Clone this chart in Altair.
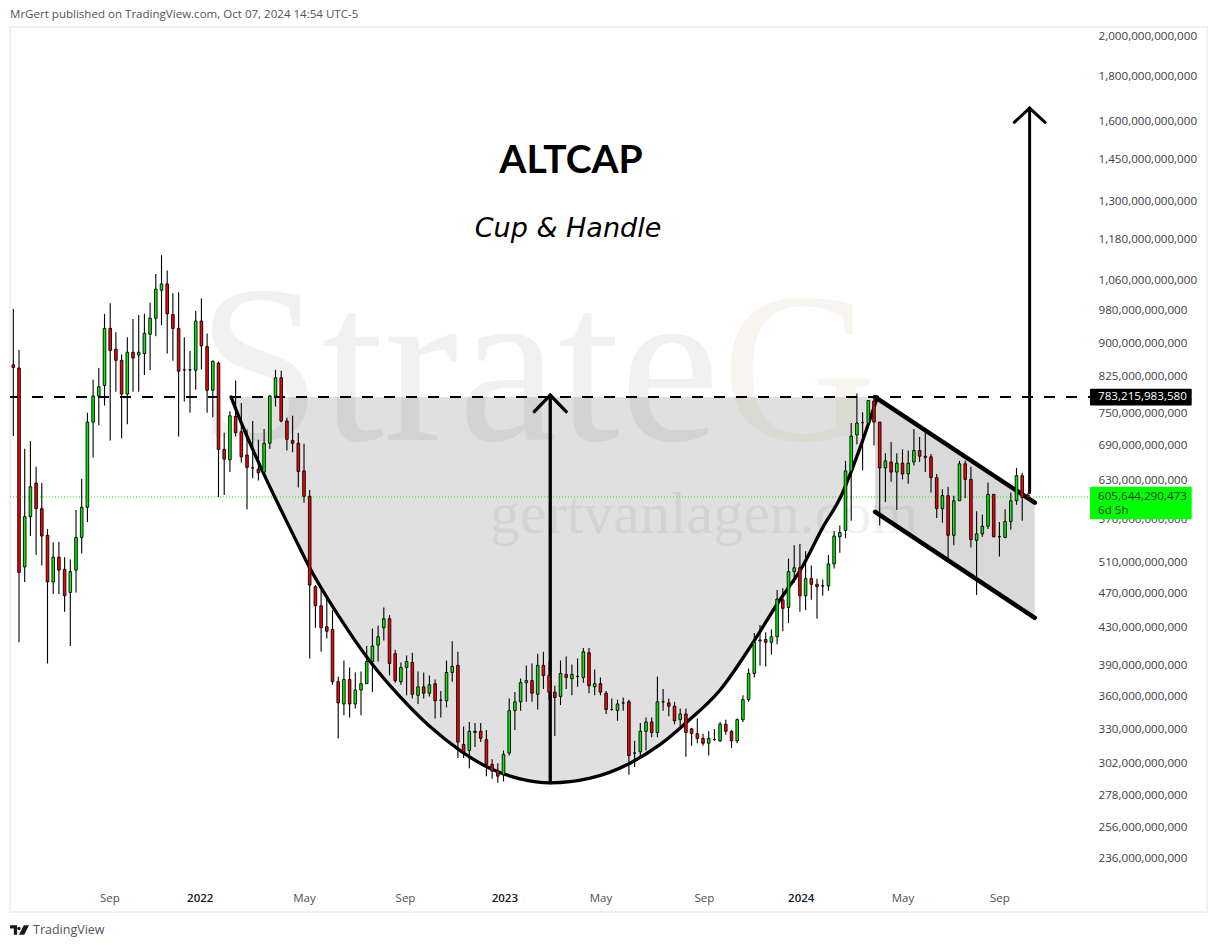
import altair as alt
import pandas as pd

# weekly ALTCAP candles, prices in billions
opens = [
    847, 840, 501, 571, 623, 583, 544, 482, 514, 498,
    469, 497, 541, 585, 730, 781, 803, 931, 882, 857,
    785, 875, 869, 872, 917, 956, 1028, 1045, 965, 931,
    836, 836, 835, 949, 888, 793, 851, 680, 662, 741,
    712, 670, 648, 646, 641, 691, 781, 819, 732, 696,
    691, 643, 602, 476, 453, 429, 426, 372, 351, 374,
    351, 364, 370, 392, 409, 428, 438, 400, 372, 386,
    391, 359, 367, 361, 370, 354.5, 354, 381, 388, 316,
    311, 326, 327, 320, 300, 295, 292, 309, 345, 353,
    371, 373, 360, 388, 378, 362, 358, 379, 375, 377,
    376, 401, 367, 370, 361, 346, 345, 352, 353, 309,
    310, 327, 335, 326, 353, 352, 349, 337, 342, 329,
    325, 321, 317, 320, 319, 333, 327, 319, 337, 355,
    380, 413.5, 415, 412, 418, 460, 451, 495, 500, 465,
    486, 479, 477, 477, 505, 542, 551, 643, 706, 729,
    728, 771, 730, 648, 658, 641, 656, 638, 658, 678,
    668, 667, 632, 583, 603, 544, 595, 655, 629, 537,
    546, 557, 605, 542, 541, 564, 595, 635, 604,
]
highs = [
    979, 880, 681, 695, 650, 623, 553, 534, 535, 514,
    511, 581, 630, 748, 815, 840, 967, 994, 922, 870,
    910, 954, 964, 967, 995, 1072, 1126, 1082, 1020, 1023,
    910, 878, 974, 1006, 919, 856, 854, 710, 751, 813,
    767, 716, 732, 697, 717, 783, 836, 834, 738, 742,
    710, 690, 612, 478, 472, 465, 448, 377, 393, 386,
    381, 382, 408, 427, 430, 451, 442, 404, 391, 398,
    401, 382, 381, 378, 374, 363, 393, 413, 402, 331,
    335, 334, 334, 328, 304, 301, 311, 356, 362, 375,
    388, 390, 400, 402, 392, 368, 393, 397, 389, 395,
    406, 406, 384, 376, 363, 356, 355, 357, 355, 319,
    334, 339, 339, 377, 365, 356, 353, 347, 347, 330,
    338, 325, 327, 329, 335, 337, 328, 338, 359, 385,
    422, 431, 423, 426, 472, 474, 512, 530, 532, 522,
    503, 486, 485, 517, 550, 558, 660, 728, 786, 749,
    773, 783, 730, 673, 693, 673, 680, 678, 717, 702,
    712, 672, 638, 613, 617, 603, 660, 660, 650, 579,
    574, 624, 605, 563, 582, 608, 648, 640, 607,
]
lows = [
    704, 412, 482, 543, 517, 503, 390, 467, 467, 446,
    408, 469, 519, 563, 666, 724, 762, 696, 790, 700,
    726, 790, 790, 825, 835, 912, 939, 872, 856, 703,
    770, 748, 794, 837, 748, 739, 601, 604, 641, 703,
    657, 582, 631, 627, 640, 681, 760, 729, 678, 675,
    616, 592, 395, 428, 402, 416, 369, 321, 341, 339,
    347, 341, 370, 362, 392, 414, 378, 371, 369, 359,
    356, 351, 356, 358, 338, 339, 348, 372, 305, 305,
    297, 314, 318, 291, 289, 286, 287, 307, 328, 345,
    353, 353, 346, 365, 355, 323, 350, 365, 359, 367,
    371, 361, 359, 359, 342, 345, 336, 345, 292, 298,
    306, 311, 322, 322, 345, 340, 333, 331, 306, 315,
    317, 315, 307, 319, 318, 324, 313, 317, 335, 353,
    376, 388, 387, 399, 410, 424, 433, 481, 446, 448,
    460, 438, 465, 471, 499, 520, 540, 565, 689, 644,
    727, 687, 558, 593, 625, 581, 629, 622, 652, 658,
    641, 608, 569, 562, 510, 530, 595, 599, 527, 466,
    542, 553, 541, 515, 540, 552, 589, 565, 597,
]
closes = [
    841, 494, 571, 617, 583, 543, 482, 514, 497, 465,
    495, 541, 585, 730, 781, 800, 931, 879, 857, 785,
    875, 862, 875, 919, 956, 1031, 1045, 967, 931, 833,
    836, 836, 949, 890, 793, 855, 680, 663, 742, 710,
    667, 649, 648, 640, 691, 781, 819, 732, 698, 691,
    642, 602, 478, 453, 428, 424, 372, 352, 374, 351,
    364, 370, 392, 408, 418, 438, 390, 373, 386, 392,
    360, 367, 361, 369, 354, 354.5, 381, 387, 318, 310,
    327, 327, 321, 300, 295, 291, 308, 345, 353, 371,
    373, 361, 388, 378, 362, 357, 380, 376, 379, 377,
    402, 368, 370, 362, 346, 346, 351, 352, 307, 309,
    327, 335, 326, 353, 353, 349, 336, 342, 326, 325,
    321, 317, 321, 320, 333, 327, 319, 337, 355, 380,
    412, 414.5, 412, 418, 461, 450, 495, 500, 465, 486,
    479, 476, 477, 505, 543, 548, 643, 704, 728, 729,
    772, 730, 648, 660, 641, 656, 638, 656, 678, 668,
    666, 632, 583, 603, 544, 595, 655, 629, 538, 546,
    557, 605, 542, 542, 564, 595, 635, 600, 600,
]

# drawings, x in weeks after the first bar, y in billions
cup_weeks = [38.2, 40.3, 43.8, 46.8, 49.4, 52, 57.3, 62.6, 67.8, 73.1, 78.4, 83.6, 88.9, 94.2,
             101.2, 108.2, 113.5, 118.2, 124, 129.8, 134.1, 138.4, 142, 145.1, 148.6, 151.6]
cup_prices = [779, 721, 641, 584, 540, 500, 439, 392, 358, 331, 311, 297, 289, 286,
              289.5, 301, 316, 335, 364, 412, 456, 501, 555, 600, 684, 779]
level_price = 779
last_price_line = 601
handle_weeks = [151.2, 179.2]
handle_upper = [779, 592]
handle_lower = [578, 439]
price_ticks = [2000, 1800, 1600, 1450, 1300, 1180, 1060, 980, 900, 825, 750, 690,
               630, 570, 510, 470, 430, 390, 360, 330, 302, 278, 256, 236]
date_ticks = ["2021-09-05", "2021-12-25", "2022-05-02", "2022-09-03", "2023-01-03",
              "2023-05-01", "2023-09-05", "2024-01-02", "2024-05-06", "2024-09-02"]

WEEK_MS = 7 * 24 * 3600 * 1000
T0 = int(pd.Timestamp("2021-05-10").timestamp() * 1000)


def week_ms(w):
    return T0 + w * WEEK_MS


candles = pd.DataFrame({"open": opens, "high": highs, "low": lows, "close": closes})
candles["t"] = [week_ms(i) for i in range(len(candles))]
candles["top"] = candles[["open", "close"]].max(axis=1)
candles["bottom"] = candles[["open", "close"]].min(axis=1)
candles["dir"] = ["up" if c >= o else "down" for o, c in zip(opens, closes)]

x_scale = alt.Scale(type="utc", domain=[week_ms(-0.58), week_ms(209.42)], padding=0)
y_scale = alt.Scale(type="log", domain=[204.5, 2036.7], nice=False)

# every layer carries the same axes, a layer with axis=None would switch them off
is_year = "utcmonth(datum.value)==11 || utcmonth(datum.value)==0"
x_axis = alt.Axis(
    title=None, grid=False, domain=False, ticks=False, orient="bottom", offset=-20, labelPadding=0,
    values=[int(pd.Timestamp(d).timestamp() * 1000) for d in date_ticks],
    labelExpr="utcmonth(datum.value)==11 ? utcyear(datum.value)+1 : utcmonth(datum.value)==0 ? utcyear(datum.value) : utcFormat(datum.value,'%b')",
    labelFont="Open Sans", labelFontSize=11.5, labelOverlap=False, labelFlush=False,
    labelFontWeight={"condition": {"test": is_year, "value": 600}, "value": 400},
    labelColor={"condition": {"test": is_year, "value": "#131722"}, "value": "#4a4e59"},
)
y_axis = alt.Axis(
    title=None, grid=False, domain=False, ticks=False, orient="right", offset=-109, labelPadding=0,
    values=price_ticks, labelAlign="left", labelFont="Open Sans", labelFontSize=11.65, labelColor="#3d3d45",
    labelOverlap=False, labelFlush=False, labelOffset=2,
    labelExpr="format(datum.value, ',') + ',000,000,000'",
)
x_enc = alt.X("t:T", scale=x_scale, axis=x_axis)
y_enc = alt.Y("p:Q", scale=y_scale, axis=y_axis)


def line(weeks, prices, width=3.3, cap="round", color="black", **kw):
    df = pd.DataFrame({"t": [week_ms(w) for w in weeks], "p": prices})
    return alt.Chart(df).mark_line(color=color, strokeWidth=width, strokeCap=cap, clip=False, **kw).encode(x=x_enc, y=y_enc)


def label(text, x, y, size=12, color="#3d3d45", font="Open Sans", align="left", baseline="middle", **kw):
    return alt.Chart(pd.DataFrame({"s": [text]})).mark_text(
        font=font, fontSize=size, color=color, align=align, baseline=baseline, clip=False, **kw
    ).encode(x=alt.value(x), y=alt.value(y), text="s:N")


cup_df = pd.DataFrame({"t": [week_ms(w) for w in cup_weeks], "p": cup_prices, "top": level_price})
cup_fill = alt.Chart(cup_df).mark_area(color="#e0e0e0", interpolate="monotone").encode(x=x_enc, y=y_enc, y2="top:Q")

handle_df = pd.DataFrame({"t": [week_ms(w) for w in handle_weeks], "p": handle_upper, "low": handle_lower})
handle_fill = alt.Chart(handle_df).mark_area(color="#d9d9d9").encode(x=x_enc, y=y_enc, y2="low:Q")

watermark = [
    label("Strate", 187, 413, size=224, color="black", font="Liberation Serif", baseline="alphabetic", opacity=0.05),
    label("G", 712, 413, size=214, color="#b8a860", font="Liberation Serif", baseline="alphabetic", opacity=0.1),
    label("gertvanlagen.com", 480, 506, size=60, color="black", font="Liberation Serif", baseline="alphabetic", opacity=0.05),
]

level_line = line([-0.58, 189.2], [level_price, level_price], width=2, cap="butt", strokeDash=[11, 11])
last_line = line([-0.58, 189.2], [last_price_line, last_price_line], width=1, cap="butt", color="#00ff00", strokeDash=[1, 2])

cup_curve = line(cup_weeks, cup_prices, interpolate="monotone")
handle_top = line(handle_weeks, handle_upper, width=4.5)
handle_bottom = line(handle_weeks, handle_lower, width=4.5)

arrows = [
    line([94.2, 94.2], [286, 783]),
    line([91.4, 94.2, 97.0], [750, 783, 750]),
    line([178.3, 178.3], [608, 1650], width=3),
    line([175.6, 178.3, 181.0], [1590, 1650, 1590], width=3),
]

wicks = alt.Chart(candles).mark_rule(color="black", strokeWidth=1.1).encode(
    x=x_enc, y=alt.Y("low:Q", scale=y_scale, axis=y_axis), y2="high:Q"
)
bodies = alt.Chart(candles).mark_bar(size=2.6, stroke="black", strokeWidth=0.9).encode(
    x=x_enc,
    y=alt.Y("top:Q", scale=y_scale, axis=y_axis),
    y2="bottom:Q",
    color=alt.Color("dir:N", scale=alt.Scale(domain=["up", "down"], range=["#00f000", "#ff0000"]), legend=None),
)


def box(color, top, bottom):
    df = pd.DataFrame({"p": [top], "low": [bottom]})
    return alt.Chart(df).mark_rect(color=color, cornerRadius=1, clip=False).encode(
        x=alt.value(1080), x2=alt.value(1181.7), y=y_enc, y2="low:Q"
    )


level_box = box("black", 796, 762)
last_box = box("#00ff00", 617, 567)

logo_path = "M-1,-.5H-.25V.5H-.6V-.15H-1Z M-.05,-.33a.17,.17 0 1,0 .001,0Z M.45,-.5H1L.5,.5H-.05Z"
logo = alt.Chart(pd.DataFrame({"a": [0]})).mark_point(
    shape=logo_path, filled=True, color="#131722", size=361, opacity=1, clip=False
).encode(x=alt.value(9.5), y=alt.value(903))

chart = alt.layer(
    cup_fill,
    handle_fill,
    *watermark,
    level_line,
    last_line,
    cup_curve,
    handle_top,
    handle_bottom,
    *arrows,
    wicks,
    bodies,
    level_box,
    last_box,
    label("ALTCAP", 561, 145.7, size=39, color="black", font="Lato", align="center", baseline="alphabetic", fontWeight="bold"),
    label("Cup & Handle", 558, 210, size=27, color="black", font="DejaVu Sans", align="center", baseline="alphabetic", fontStyle="italic"),
    label("783,215,983,580", 1088, 370, color="white", size=11.65),
    label("605,644,290,473", 1088, 469.5, color="#12331a", size=11.65),
    label("6d 5h", 1088, 483.5, color="#12331a", size=11.65),
    label("MrGert published on TradingView.com, Oct 07, 2024 14:54 UTC-5", 0, -12, size=11.55, color="#50535e"),
    label("TradingView", 23, 903, size=12.5, color="#50535e"),
    logo,
).properties(
    width=1197,
    height=885,
    background="white",
    autosize=alt.AutoSizeParams(type="none"),
    padding={"left": 2, "top": 19, "right": 2, "bottom": 28},
).configure_view(stroke="#eff0f6", strokeWidth=2)

chart.save("out.html", embed_options={"renderer": "svg", "actions": False})
